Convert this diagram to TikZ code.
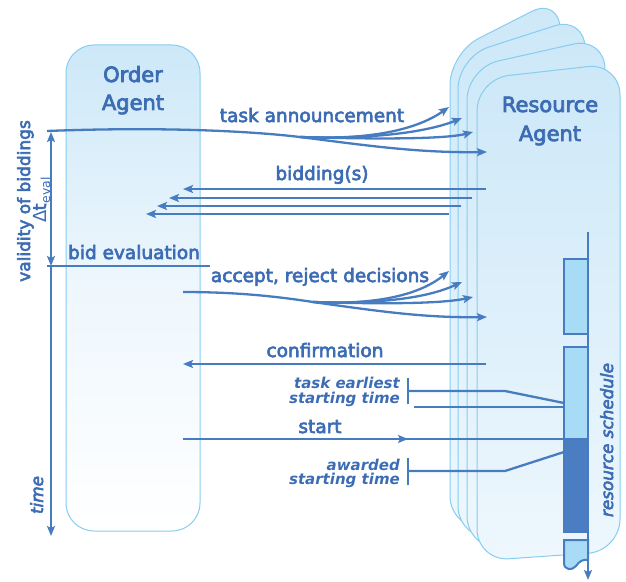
\documentclass[tikz,border=0pt]{standalone}
\usepackage{fontspec}
\setmainfont{DejaVu Sans}
\newfontfamily\medfont{DejaVu Sans}[FakeBold=3.5]
\usetikzlibrary{arrows.meta}
\definecolor{ink}{RGB}{60,108,180}
\definecolor{wire}{RGB}{72,124,192}
\definecolor{edge}{RGB}{135,205,240}
\definecolor{paletop}{RGB}{205,232,248}
\definecolor{palebot}{RGB}{238,247,253}
\definecolor{barlight}{RGB}{168,219,245}
\definecolor{bardark}{RGB}{74,125,193}
\tikzset{
  conn/.style={draw=wire, line width=2.3bp},
  arr/.style={-{Stealth[length=10bp,width=8bp,inset=2bp]}},
  arrboth/.style={{Stealth[length=10bp,width=8bp,inset=2bp]}-{Stealth[length=10bp,width=8bp,inset=2bp]}},
  lbl/.style={text=ink, inner sep=0, anchor=base, font=\medfont\fontsize{18.5bp}{20bp}\selectfont},
  ilbl/.style={text=ink, inner sep=0, font=\fontsize{15bp}{15bp}\selectfont\bfseries\itshape},
  rlbl/.style={text=ink, inner sep=0, anchor=base, rotate=90, font=\medfont\itshape\fontsize{16.8bp}{17bp}\selectfont},
  head/.style={text=ink, inner sep=0, anchor=base, font=\medfont\fontsize{21bp}{28bp}\selectfont},
  card/.style={draw=edge, line width=1bp, rounded corners=32bp, top color=paletop, bottom color=palebot},
  agentbox/.style={draw=edge, line width=1bp, rounded corners=28bp, top color=paletop, bottom color=white, middle color=palebot},
  slotlight/.style={draw=wire, line width=2bp, fill=barlight},
  slotdark/.style={draw=wire, line width=2bp, fill=bardark},
}
\begin{document}
\begin{tikzpicture}[x=1bp,y=-1bp]
\useasboundingbox (0,0) rectangle (626,582);

% Order agent lifeline box
\path[agentbox] (66,45) rectangle (200,531);
\node[head] (oa1) at (133,82) {Order};
\node[head] (oa2) at (133,110) {Agent};

% stacked resource agent cards
\path[card] (450,53) -- (560,-3) -- (560,528) -- (450,528) -- cycle;
\path[card] (458,57) -- (585,16) -- (585,538) -- (458,538) -- cycle;
\path[card] (467,68) -- (605,37) -- (605,548) -- (467,548) -- cycle;
\path[card] (477,79) -- (620,63) -- (620,551) -- (477,561) -- cycle;
\node[head] (ra1) at (550,112) {Resource};
\node[head] (ra2) at (550,141) {Agent};

% time axis and validity interval
\coordinate (vtop) at (51,132);
\coordinate (veval) at (51,266);
\coordinate (vend) at (51,536);
\draw[conn, arrboth] (vtop) -- (veval);
\draw[conn, arr] (veval) -- (vend);
\node[text=ink, inner sep=0, anchor=base, rotate=90, font=\medfont\fontsize{17bp}{17bp}\selectfont] (vb) at (30,201) {validity of biddings};
\node[text=ink, inner sep=0, anchor=base, rotate=90] (dt) at (46,200) {\fontsize{18bp}{18bp}\selectfont Δ{\medfont t}\raisebox{-4bp}{\fontsize{12.5bp}{12bp}\selectfont eval}};
\node[rlbl] (tm) at (43,495) {time};

% task announcement fan
\coordinate (ta0) at (47,131);
\coordinate (taf) at (300,137);
\coordinate (ta1) at (449,107);
\coordinate (ta2) at (462,118);
\coordinate (ta3) at (473,132);
\coordinate (ta4) at (487,152);
\draw[conn] (ta0) .. controls (150,127) and (240,130) .. (taf);
\draw[conn, arr] (taf) .. controls (385,141) and (425,124) .. (ta1);
\draw[conn, arr] (taf) .. controls (395,140) and (440,127) .. (ta2);
\draw[conn, arr] (taf) .. controls (400,140) and (450,138) .. (ta3);
\draw[conn, arr] (taf) .. controls (370,146) and (420,153) .. (ta4);
\node[lbl] (tA) at (312,122) {task announcement};

% biddings
\coordinate (b1s) at (486,189); \coordinate (b1e) at (183,189);
\coordinate (b2s) at (472,198); \coordinate (b2e) at (169,198);
\coordinate (b3s) at (461,206); \coordinate (b3e) at (157,206);
\coordinate (b4s) at (449,214); \coordinate (b4e) at (146,214);
\draw[conn, arr] (b1s) -- (b1e);
\draw[conn, arr] (b2s) -- (b2e);
\draw[conn, arr] (b3s) -- (b3e);
\draw[conn, arr] (b4s) -- (b4e);
\node[lbl] (tB) at (322,180) {bidding(s)};

% bid evaluation
\coordinate (be0) at (47,266);
\coordinate (be1) at (210,266);
\draw[conn] (be0) -- (be1);
\node[lbl] (tE) at (134,259) {bid evaluation};

% accept / reject fan
\coordinate (ar0) at (183,292);
\coordinate (arf) at (313,302);
\coordinate (ar1) at (449,271);
\coordinate (ar2) at (462,282);
\coordinate (ar3) at (473,297);
\coordinate (ar4) at (487,317);
\draw[conn] (ar0) .. controls (240,292) and (280,297) .. (arf);
\draw[conn, arr] (arf) .. controls (393,306) and (428,288) .. (ar1);
\draw[conn, arr] (arf) .. controls (403,305) and (440,292) .. (ar2);
\draw[conn, arr] (arf) .. controls (410,305) and (450,302) .. (ar3);
\draw[conn, arr] (arf) .. controls (383,312) and (428,318) .. (ar4);
\node[lbl] (tR) at (320,282) {accept, reject decisions};

% confirmation
\coordinate (cf0) at (486,364);
\coordinate (cf1) at (183,364);
\draw[conn, arr] (cf0) -- (cf1);
\node[lbl] (tC) at (325,357) {confirmation};

% resource schedule
\path[slotlight] (564,259) rectangle (588,334);
\path[slotlight] (564,347) rectangle (588,439);
\path[slotdark] (564,439) rectangle (588,532);
\path[slotlight] (564,540) -- (564,563) .. controls (564,570) and (572,571) .. (576,566)
   .. controls (579,561) and (584,559) .. (588,560) -- (588,540) -- cycle;
\coordinate (rs0) at (588,232);
\coordinate (rs1) at (588,580);
\draw[conn, arr] (rs0) -- (rs1);
\node[rlbl] (rsl) at (613,440) {resource schedule};

% start
\coordinate (st0) at (183,439);
\coordinate (stm) at (408,439);
\coordinate (stj) at (402,439);
\coordinate (st1) at (564,439);
\draw[conn, arr] (st0) -- (stm);
\draw[conn] (stj) -- (st1);
\node[lbl] (tS) at (320,433) {start};

% task earliest starting time
\node[ilbl, anchor=base east] (te1) at (400,388) {task earliest};
\node[ilbl, anchor=base east] (te2) at (400,403) {starting time};
\coordinate (tb0) at (408,378); \coordinate (tb1) at (408,404);
\coordinate (tl0) at (408,391); \coordinate (tlk) at (505,391); \coordinate (tl1) at (564,403);
\coordinate (tm0) at (414,407); \coordinate (tm1) at (564,407);
\draw[conn] (tb0) -- (tb1);
\draw[conn] (tl0) -- (tlk) -- (tl1);
\draw[conn] (tm0) -- (tm1);

% awarded starting time
\node[ilbl, anchor=base east] (aw1) at (400,470) {awarded};
\node[ilbl, anchor=base east] (aw2) at (400,484) {starting time};
\coordinate (ab0) at (408,458); \coordinate (ab1) at (408,485);
\coordinate (al0) at (408,471); \coordinate (alk) at (505,471); \coordinate (al1) at (564,452);
\draw[conn] (ab0) -- (ab1);
\draw[conn] (al0) -- (alk) -- (al1);
\end{tikzpicture}
\end{document}
